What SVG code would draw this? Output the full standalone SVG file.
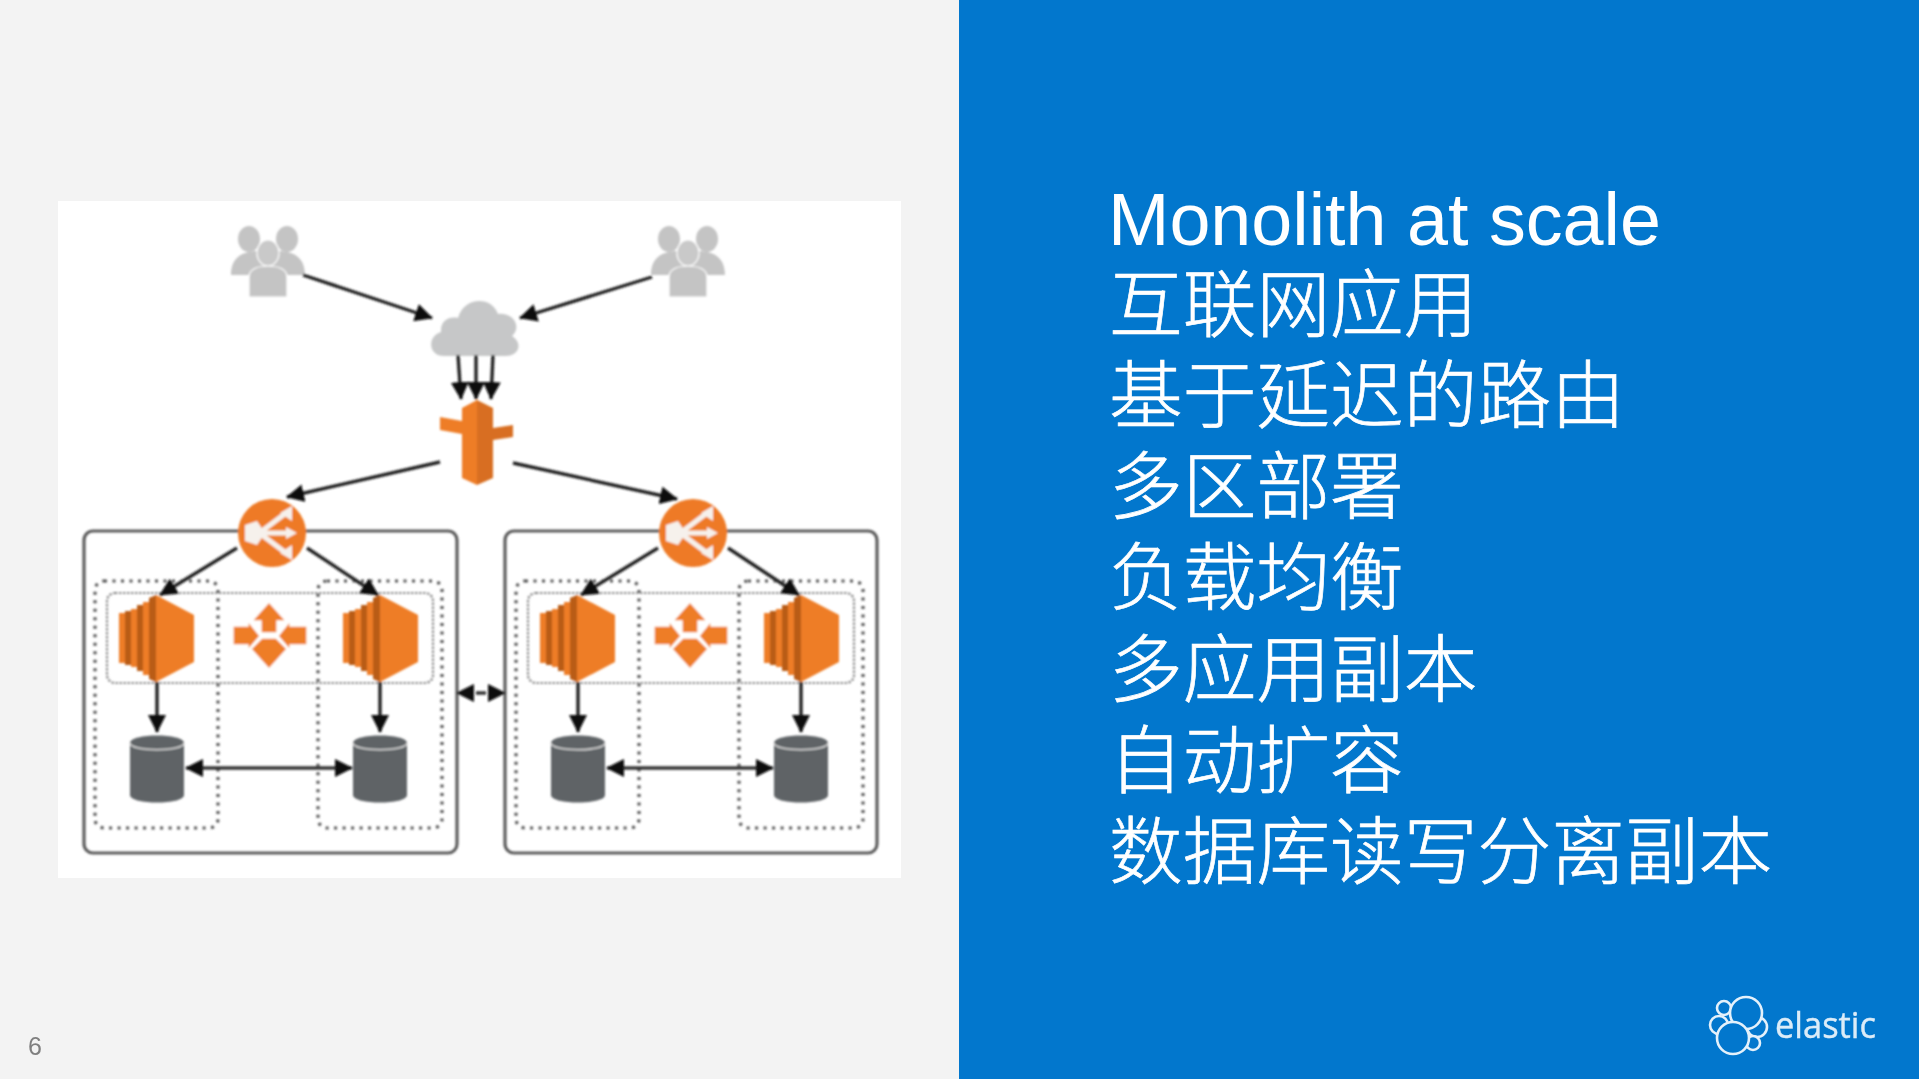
<svg xmlns="http://www.w3.org/2000/svg" width="1919" height="1079" viewBox="0 0 1919 1079">
<style>
.t{font-family:"Liberation Sans","Noto Sans CJK SC",sans-serif;font-size:73.7px;fill:#fff}
.z{font-family:"Noto Sans CJK SC","Liberation Sans",sans-serif;font-weight:300;stroke:#fff;stroke-width:.7}
.a{stroke:#222;stroke-width:3.4;fill:none;marker-end:url(#ah)}
.d{stroke:#333;stroke-width:3.4;fill:none;marker-start:url(#as);marker-end:url(#ah)}
.region{fill:none;stroke:#5c5c5c;stroke-width:3.2}
.az{fill:none;stroke:#555;stroke-width:3.2;stroke-dasharray:3 5.5}
.grp{fill:none;stroke:#8a8a8a;stroke-width:2.2;stroke-dasharray:2.5 1.5}
.or{fill:#ee7d28}.or2{fill:#b95c18}.or3{fill:#d86e20}.pp{fill:#c4c4c4}
.st{fill:#ee7d28;stroke:#fff;stroke-width:1.4}
.lg{fill:#0277cd;stroke:#e4f1fb;stroke-width:2.6}
</style>
<defs>
<filter id="soft" x="-5%" y="-5%" width="110%" height="110%"><feGaussianBlur stdDeviation="1"/></filter>
<marker id="ah" markerUnits="userSpaceOnUse" markerWidth="20" markerHeight="18" refX="17" refY="9" orient="auto"><path d="M0 0L18 9L0 18Z" fill="#111"/></marker>
<marker id="as" markerUnits="userSpaceOnUse" markerWidth="20" markerHeight="18" refX="1" refY="9" orient="auto"><path d="M18 0L0 9L18 18Z" fill="#111"/></marker>
<g id="people">
<ellipse cx="-19" cy="-28" rx="11" ry="13" class="pp"/><ellipse cx="19" cy="-28" rx="11" ry="13" class="pp"/>
<path class="pp" d="M-37 8C-37-8-28-15-12-16L12-16C28-15 37-8 37 8L18 8L18 12L-18 12L-18 8Z"/>
<ellipse cx="0" cy="-14" rx="11" ry="13" fill="#c9c9c9" stroke="#fff" stroke-width="1.2"/>
<path class="pp" stroke="#fff" stroke-width="1.2" d="M-19 30L-19 10C-19 2-10-1 0-1C10-1 19 2 19 10L19 30Z"/>
</g>
<g id="ec2">
<path d="M0 18L6 18L6 68L0 68Z" class="or"/><path d="M6 16L12 16L12 70L6 70Z" class="or2"/>
<path d="M12 14L18 14L18 72L12 72Z" class="or"/><path d="M18 10L24 10L24 76L18 76Z" class="or2"/>
<path d="M24 7L30 7L30 80L24 80Z" class="or"/><path d="M30 3L37 0L37 87L30 84Z" class="or2"/>
<path d="M37 0L75 20L75 67L37 87Z" class="or"/>
</g>
<g id="db">
<path d="M0 8C0-2 54-2 54 8L54 60C54 70 0 70 0 60Z" fill="#5f6366"/>
<path d="M0 8C0 17 54 17 54 8" fill="none" stroke="#d4d4d4" stroke-width="1.6"/>
</g>
<g id="star">
<path class="st" d="M0-33L17-14L8-14L8-2L-8-2L-8-14L-17-14Z"/>
<path class="st" d="M0 34L-18 14L-7 3L7 3L18 14Z"/>
<path class="st" d="M-9 1L-21-14L-21-9L-36-9L-36 10L-21 10L-21 15Z"/>
<path class="st" d="M9 1L21-14L21-9L38-9L38 10L21 10L21 15Z"/>
</g>
<g id="lb">
<circle r="34" fill="#ee7a26"/>
<path fill="#f6f1ec" d="M-27-8L-15-12L-9-3L-9 3L-15 12L-27 8Z"/>
<path fill="none" stroke="#f6f1ec" stroke-width="5" d="M-10-2L14-20M-10 0L20 0M-10 2L14 20"/>
<path fill="#f6f1ec" d="M8-20L20-27L20-12ZM14-6L25 0L14 6ZM8 20L20 12L20 27Z"/>
</g>
</defs>
<rect width="1919" height="1079" fill="#f3f3f3"/>
<rect x="959" width="960" height="1079" fill="#0277cd"/>
<rect x="58" y="201" width="843" height="677" fill="#fff"/>

<g filter="url(#soft)">
<g id="users-left"><use href="#people" x="268" y="267"/></g>
<g id="users-right"><use href="#people" x="688" y="267"/></g>
<g id="cloud"><path d="M444 356C428 356 427 336 441 332C440 320 450 316 458 318C464 296 492 296 498 314C514 312 522 328 512 336C524 344 518 356 506 356Z" fill="#c6c7c8"/></g>
<g id="gateway">
<path class="or" d="M440 417L462 421L462 434L440 430Z"/>
<path class="or3" d="M493 428L513 425L513 437L493 440Z"/>
<path class="or" d="M462 408L477 400L477 485L462 478Z"/>
<path class="or3" d="M477 400L493 408L493 478L477 485Z"/>
</g>
<g id="region-a"><rect x="84" y="531" width="373" height="322" rx="9" class="region"/></g>
<g id="region-b"><rect x="505" y="531" width="372" height="322" rx="9" class="region"/></g>
<g id="az-a1"><rect x="95" y="581" width="123" height="247" rx="9" class="az"/></g>
<g id="az-a2"><rect x="318" y="581" width="124" height="247" rx="9" class="az"/></g>
<g id="az-b1"><rect x="516" y="581" width="123" height="247" rx="9" class="az"/></g>
<g id="az-b2"><rect x="739" y="581" width="124" height="247" rx="9" class="az"/></g>
<g id="group-a"><rect x="107" y="593" width="326" height="90" rx="8" class="grp"/></g>
<g id="group-b"><rect x="528" y="593" width="326" height="90" rx="8" class="grp"/></g>
<g id="lb-a"><use href="#lb" x="272" y="533"/></g>
<g id="lb-b"><use href="#lb" x="693" y="533"/></g>
<g id="ec2-a1"><use href="#ec2" x="119" y="595"/></g>
<g id="ec2-a2"><use href="#ec2" x="343" y="595"/></g>
<g id="ec2-b1"><use href="#ec2" x="540" y="595"/></g>
<g id="ec2-b2"><use href="#ec2" x="764" y="595"/></g>
<g id="star-a"><use href="#star" x="269" y="635"/></g>
<g id="star-b"><use href="#star" x="690" y="635"/></g>
<g id="db-a1"><use href="#db" x="130" y="735"/></g>
<g id="db-a2"><use href="#db" x="353" y="735"/></g>
<g id="db-b1"><use href="#db" x="551" y="735"/></g>
<g id="db-b2"><use href="#db" x="774" y="735"/></g>
<g id="connectors">
<path class="a" d="M303 275L432 318"/>
<path class="a" d="M652 277L520 318"/>
<path class="a" d="M458 355L461 399"/>
<path class="a" d="M476 355L476 399"/>
<path class="a" d="M493 355L491 399"/>
<path class="a" d="M440 462L287 497"/>
<path class="a" d="M513 463L677 499"/>
<path class="a" d="M237 548L160 595"/>
<path class="a" d="M307 548L378 595"/>
<path class="a" d="M658 548L581 595"/>
<path class="a" d="M728 548L799 595"/>
<path class="a" d="M157 682L157 732"/>
<path class="a" d="M380 682L380 732"/>
<path class="a" d="M578 682L578 732"/>
<path class="a" d="M801 682L801 732"/>
<path class="d" d="M186 768L352 768"/>
<path class="d" d="M607 768L773 768"/>
<path class="d" stroke-dasharray="0 19 10 19" d="M457 693L505 693"/>
</g>
</g>

<g id="title">
<text class="t" x="1108" y="245">Monolith at scale</text>
<text class="t z" x="1109" y="331">互联网应用</text>
<text class="t z" x="1109" y="422">基于延迟的路由</text>
<text class="t z" x="1109" y="513">多区部署</text>
<text class="t z" x="1109" y="604">负载均衡</text>
<text class="t z" x="1109" y="696">多应用副本</text>
<text class="t z" x="1109" y="787">自动扩容</text>
<text class="t z" x="1109" y="878">数据库读写分离副本</text>
</g>
<text x="28" y="1055" font-family="'Liberation Sans',sans-serif" font-size="25" fill="#7f7f7f">6</text>
<g id="logo">
<circle cx="1719" cy="1025" r="9" class="lg"/><circle cx="1724" cy="1008" r="7" class="lg"/>
<circle cx="1757" cy="1027" r="10" class="lg"/><circle cx="1753" cy="1043" r="7" class="lg"/>
<circle cx="1746" cy="1013" r="16" class="lg"/><circle cx="1733" cy="1038" r="16" class="lg"/>
<text x="1775" y="1038" font-family="'Open Sans',sans-serif" font-size="37" fill="#dcecf8" stroke="#dcecf8" stroke-width=".4" textLength="101" lengthAdjust="spacingAndGlyphs">elastic</text>
</g>
</svg>
